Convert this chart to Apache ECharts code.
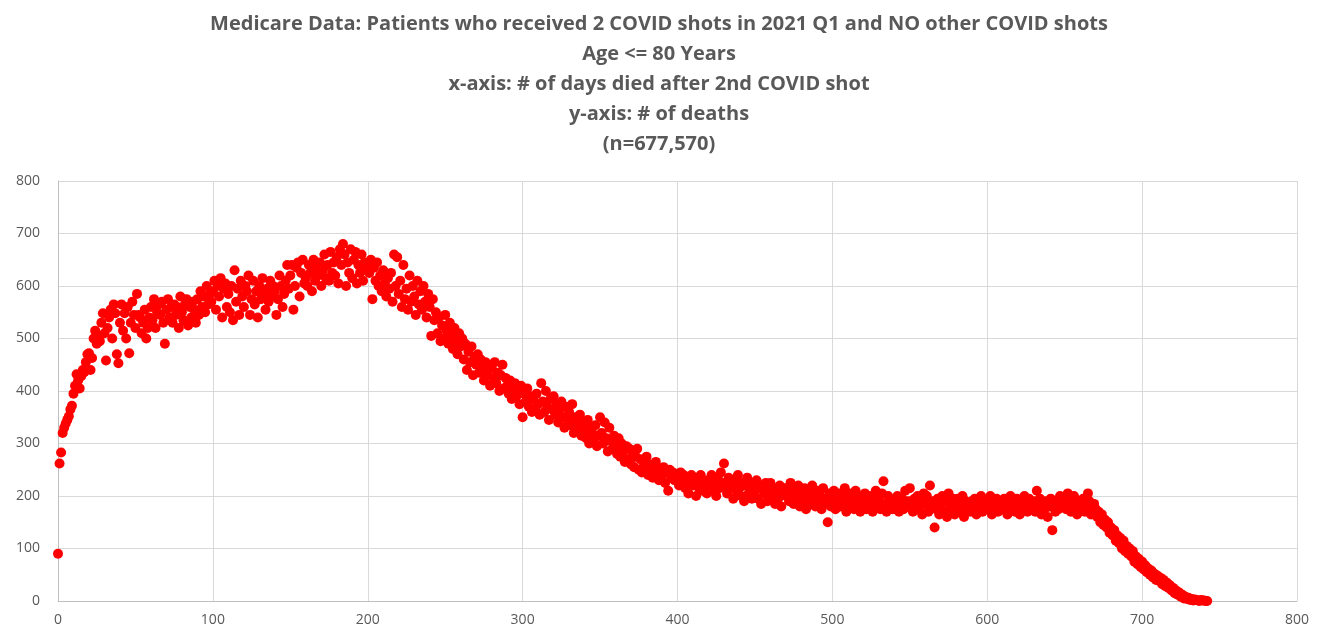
<!DOCTYPE html>
<html><head><meta charset="utf-8">
<script src="https://cdn.jsdelivr.net/npm/echarts@6/dist/echarts.min.js"></script>
<style>html,body{margin:0;padding:0;background:#fff}#c{width:1318px;height:633px}</style>
</head><body><div id="c"></div>
<script>
const titleLines = [
  "Medicare Data: Patients who received 2 COVID shots in 2021 Q1 and NO other COVID shots",
  "Age <= 80 Years",
  "x-axis: # of days died after 2nd COVID shot",
  "y-axis: # of deaths",
  "(n=677,570)"
];
const xTicks = [0, 100, 200, 300, 400, 500, 600, 700, 800];
const yTicks = [0, 100, 200, 300, 400, 500, 600, 700, 800];
// deaths per day after 2nd shot, day 0 .. 742
const deaths = [
  90,262,283,320,330,338,345,352,365,372,
  395,410,432,420,405,428,440,436,455,470,
  472,440,463,500,515,490,505,495,530,548,
  510,458,520,540,555,500,565,548,470,453,
  530,565,515,548,500,560,472,530,570,545,
  520,585,545,540,510,530,555,500,520,540,
  560,535,575,520,550,565,545,570,530,490,
  555,575,540,560,530,565,545,560,520,580,
  550,535,565,575,525,560,540,570,555,530,
  575,545,590,560,580,550,600,565,585,570,
  590,610,555,600,580,615,540,595,605,560,
  585,550,600,535,630,570,595,545,610,580,
  560,600,590,620,545,575,610,565,590,540,
  600,575,615,585,555,595,570,610,580,600,
  590,545,575,620,600,560,585,610,640,595,
  620,640,555,600,635,645,580,625,650,605,
  615,600,640,625,590,650,610,635,620,645,
  600,630,660,615,640,610,665,625,645,620,
  655,605,670,640,680,660,600,645,625,670,
  615,650,665,605,640,625,660,610,645,630,
  640,625,650,575,635,610,645,600,620,590,
  630,605,580,615,595,625,570,660,600,655,
  585,610,560,640,575,595,555,620,570,600,
  580,545,610,565,590,555,600,570,540,585,
  560,505,575,535,550,510,540,495,525,500,
  545,515,490,530,505,480,520,495,470,510,
  485,500,460,490,440,475,455,485,430,465,
  450,470,435,460,445,420,455,430,440,410,
  445,425,455,415,435,400,430,450,405,425,
  410,395,420,385,405,415,390,400,375,410,
  350,395,380,405,370,390,360,385,365,395,
  375,355,415,380,360,400,370,345,385,365,
  390,355,375,340,365,380,350,330,370,345,
  360,335,375,320,350,340,325,355,315,340,
  325,310,345,300,330,320,305,335,295,315,
  350,320,300,340,310,285,330,305,290,315,
  295,280,310,275,300,285,265,295,270,290,
  260,280,255,275,290,250,270,245,265,255,
  275,240,260,250,235,255,265,245,230,250,
  240,255,225,245,210,250,235,245,230,240,
  235,220,245,225,240,215,230,205,225,240,
  220,235,200,225,215,240,210,230,220,205,
  230,215,240,210,225,200,235,215,245,225,
  262,220,205,235,215,225,195,230,210,240,
  215,200,225,190,220,235,205,215,195,225,
  210,230,195,215,185,220,205,225,190,210,
  225,200,215,185,210,195,220,180,205,215,
  200,215,190,225,205,185,210,195,220,180,
  205,190,215,175,200,210,185,220,195,180,
  210,190,200,175,215,185,195,150,205,180,
  195,210,175,190,205,180,200,185,215,170,
  190,205,180,195,175,210,185,200,170,195,
  185,205,175,195,180,200,170,190,210,180,
  195,175,205,228,185,170,200,180,190,175,
  190,180,200,170,185,195,175,210,180,190,
  215,185,170,195,180,200,175,190,165,205,
  185,200,170,220,180,190,140,175,195,165,
  185,200,170,190,160,205,180,175,195,165,
  180,195,170,185,200,160,190,175,185,170,
  190,175,195,165,185,180,200,170,190,185,
  175,190,200,165,185,180,195,170,185,190,
  175,195,180,165,190,200,175,185,170,195,
  185,165,190,175,200,180,170,195,185,175,
  190,170,210,180,195,165,185,175,190,160,
  180,195,135,185,170,190,175,200,180,185,
  195,175,205,185,170,190,200,180,165,190,
  185,175,195,170,180,205,190,165,175,185,
  175,160,170,150,165,145,155,140,150,130,
  140,125,135,115,125,110,120,100,115,95,
  105,90,100,85,95,75,85,70,80,65,
  75,60,68,55,62,50,58,45,52,40,
  48,38,44,32,40,28,35,25,30,20,
  25,15,20,12,16,8,12,5,8,4,
  6,2,4,1,3,2,1,0,2,1,
  1,0,0
];
const points = deaths.map((v, i) => [i, v]);
const chart = echarts.init(document.getElementById('c'), null, {renderer: 'canvas'});
const axisLabel = {color: '#595959', fontSize: 14, fontFamily: 'Open Sans, sans-serif'};
chart.setOption({
  animation: false,
  title: {
    text: titleLines.join('\n'),
    left: 'center', top: 4,
    textStyle: {color: '#595959', fontSize: 20, fontWeight: 'bold', fontFamily: 'Open Sans, sans-serif', lineHeight: 30}
  },
  grid: {left: 58, right: 21, top: 181, bottom: 32, containLabel: false},
  xAxis: {
    type: 'value', min: xTicks[0], max: xTicks[xTicks.length - 1], interval: 100,
    axisLine: {show: true, lineStyle: {color: '#bfbfbf'}},
    axisTick: {show: false},
    axisLabel: Object.assign({margin: 12}, axisLabel),
    splitLine: {show: true, lineStyle: {color: '#d9d9d9'}}
  },
  yAxis: {
    type: 'value', min: yTicks[0], max: yTicks[yTicks.length - 1], interval: 100,
    axisLine: {show: true, lineStyle: {color: '#bfbfbf'}},
    axisTick: {show: false},
    axisLabel: Object.assign({margin: 18}, axisLabel),
    splitLine: {show: true, lineStyle: {color: '#d9d9d9'}}
  },
  series: [{
    type: 'scatter',
    data: points,
    symbolSize: 10,
    itemStyle: {color: '#ff0000', opacity: 1}
  }]
});
</script>
</body></html>
